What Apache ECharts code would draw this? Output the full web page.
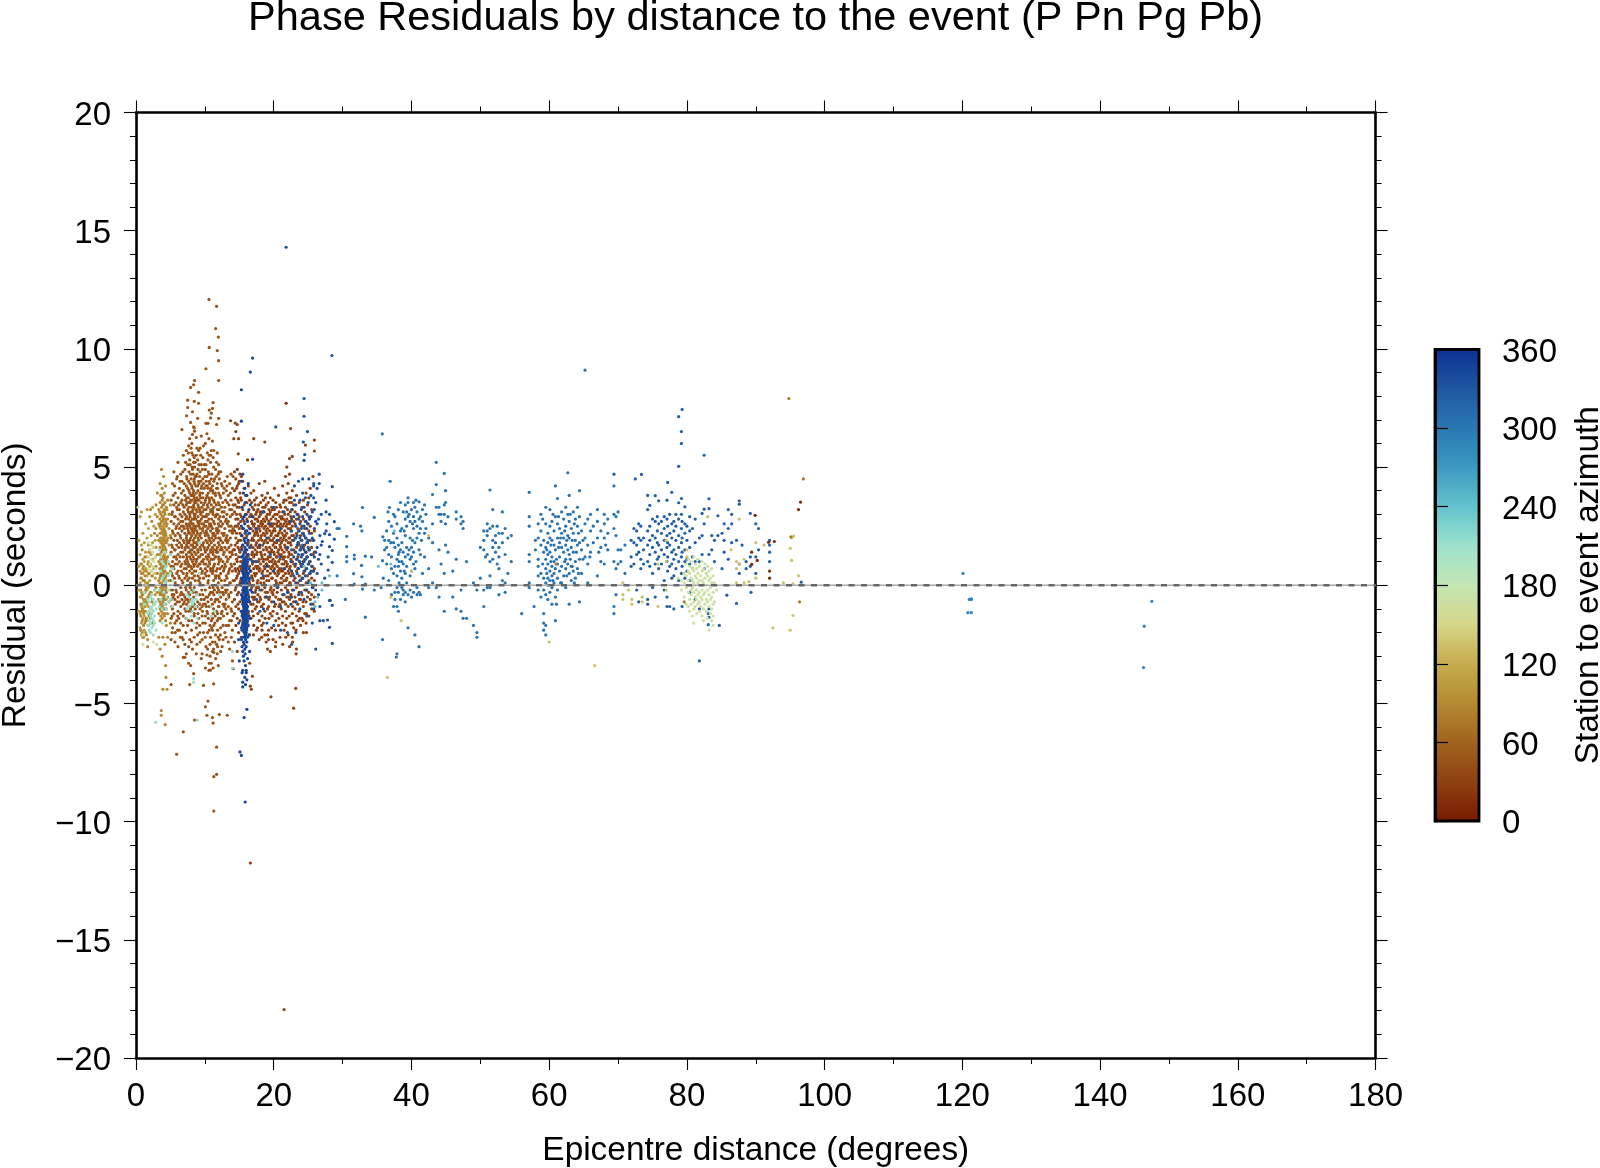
<!DOCTYPE html>
<html><head><meta charset="utf-8">
<style>html,body{margin:0;padding:0;background:#fff}#c{width:1600px;height:1168px}</style>
<script src="https://cdn.jsdelivr.net/npm/echarts@6/dist/echarts.min.js"></script></head>
<body><div id="c"></div>
<script>
// Each row: [distance, residual, residual, ...].
const sandNear=[ // azimuth ~105, closest stations
[0.4,1.9,.8,-.2,-1.1],[0.6,2.9,1.3,.6,.1,-.5,-1.2,-1.8],[0.8,3.1,1.7,.9,.3,-.3,-.9,-1.6,-2.1],[1,2.2,1.1,.5,.2,-.4,-1,-1.4,-2.2],[1.2,1.8,1,.6,0,-.7,-1.3,-1.9],[1.4,2.6,1.4,.7,.1,-.6,-1.1,-2],[1.6,3.2,2,1.2,.4,-.2,-.8,-1.5],[1.8,2.4,1.7,1,.5,-.1,-.9,-1.7],[2,2.9,1.5,.8,.2,-.5,-1.2],[2.2,2.1,1.3,.6,-.3,-1],[2.4,3.3,1.8,1.1,.4,-.6],[2.6,2.5,1.6,.7,0,-.8],[2.8,3,1.9,1.2,.3,-.4]];
const goldNear=[ // azimuth ~85
[0.7,.9,.3,-.2,-.8,-1.3,-1.9],[0.9,1.5,.5,-.4,-1,-1.5,-2],[1.1,.8,.2,-.6,-1.2,-1.7,-2.2],[1.3,1.2,.4,-.3,-.9,-1.6],[1.5,.6,-.1,-.7,-1.4,-2.1],[1.7,.9,.1,-.5,-2.3,-2.6],[1.9,1.4,.5,-.4,-1.3],
[2.9,3.4,2.4,1.6,.8,-.1],[3.1,3.9,2.9,2.1,1.3,.5,-.3],[3.3,3.2,2.6,1.9,1,.2,-.6,-1.2],[3.5,4.3,3.5,2.8,2.2,1.6,.9,.3,-.4,-1,-1.5],[3.6,3.8,3,2.4,1.8,1.1,.5,-.2,-.8,-1.3],[3.7,4.9,3.3,2.7,2,1.4,.7,.1,-.6,-1.1],[3.8,4.1,3.6,2.9,2.3,1.7,1,.4,-.3,-.9,-1.4],[3.9,3.7,3.1,2.5,1.9,1.2,.6,-.1,-.7,-1.2,-2.2],[4,4.6,3.4,2.8,2.1,1.5,.8,.2,-.5,-1],[4.1,3.9,3.2,2.6,2,1.3,.7,0,-.4,-1.3],[4.2,3.5,3,2.3,1.6,1,.3,-.6,-1.2],[4.3,4.2,2.7,2.2,1.4,.9,.1,-.8,-1.5],[4.4,3.3,2.5,1.8,1.1,.4,-.3,-1,-1.7],[4.6,3.6,2.8,2,1.2,.5,-.5,-1.2],[4.8,3,2.4,1.7,.9,.2,-.7],[5,3.4,2.1,1.3,.6,-.2,-1.6],
[3.67,-5.3,-5.5],[4.25,-5.9],[3.9,-4.4],[4.5,-4.4],[4.35,-3.9],[3.5,-2.7],[3.8,-3],[4.2,-2.5],[4.3,-3.4],[3.3,-2.2],[4.6,-2.2],
[3.45,3.1,2.5,1.9,1.3,.7,.1,-.3,-.7],[3.55,2.6,2,1.5,.9,.4,-.1,-.9],[3.75,3.8,2.2,1.8,1.2,.8,.3,-.4],[3.85,3.4,2.7,1.5,.6,-.2,-.6],[3.95,2.9,2.3,1.6,1,.4,-.3],[4.05,2.4,1.7,1.1,.5,-.8],[4.15,3.1,2.2,1.8,.9,.2,-1],[4.25,2.8,1.9,1.2,.6,-.2],[4.35,2.1,1.5,.8,-.1,-.6],[4.5,3.2,2.6,1.9,1,.2],[2.1,3.2,.9,-.3,-1.4],[2.3,2.7,.4,-.7,-1.6],[2.7,2.2,.5,-.2],[1,.7,-.8],[1.4,-.2,-1.5],[1.2,.2,-1.1],[0.8,.5,-.5,-1.1]];
const brownMain=[ // azimuth ~45, distance 5-14
[5.1,3.6,2.7,2,1.4,.8,.2,-.6,-1.4,-2.3,-4.2],[5.3,4.3,3.1,2.3,1.6,1,.4,-.2,-1,-1.8],[5.5,4.8,3.4,2.6,1.9,1.2,.7,-.4,-1.2],[5.7,3.9,2.9,2.1,1.5,.9,.1,-.8,-2],[5.9,4.5,3.3,2.5,1.7,1.1,.5,-.3,-1.5,-7.15],[6.1,5.2,3.7,2.8,2.2,1.3,.6,-.5,-1.1,-2.6],[6.3,4.1,3.2,2.4,1.8,1,.3,-.7,-1.9],[6.5,4.7,3.5,2.7,2,1.4,.8,-.1,-.9,-1.6],[6.67,6.59,4.4,3.6,2.9,2.3,1.6,.9,.2,-.6,-2.2],[6.87,5.5,4,3.1,2.5,1.9,1.2,.5,-.4,-1.3,-3.05,-6.2],[7.1,4.9,3.8,3,2.2,1.5,1,.3,-.5,-1,-2.5,-3.05],[7.3,5.7,4.2,3.4,2.6,2,1.3,.7,-.2,-1.4,-2.9],[7.35,7.17,4.6,3.7,2.9,2.1,1.7,1.1,.4,-.8],[7.5,7.83,7.52,5.1,4.1,3.2,2.4,1.8,1,.2,-.6,-1.7],[7.64,5.9,4.4,3.5,2.8,2.2,1.4,.9,-.3,-1.1,-3.3],[7.8,6.2,5.3,3.9,3,2.5,1.9,1.2,.6,-.4,-2.3,-4.2],[7.93,6.89,8.37,4.7,3.6,2.7,2,1.5,.8,.1,-1,-3.4],[8.1,6,5.6,4.2,3.3,2.6,2.1,1.3,.7,-.2,-1.5],[8.2,7.34,6.38,4.9,3.8,3.1,2.4,1.7,1,.3,-.9,-2.7],[8.37,8.48,6.7,5.2,4,3.4,2.8,2.2,1.6,.9,-.5,-3.74],[8.46,7.78,6.66,5.4,4.5,3.7,3,2.3,1.4,.6,-.1,-1.2],[8.5,8.66,6.52,5,4.3,3.5,2.9,2,1.1,.4,-5.7],[8.75,6.25,5.5,4.6,3.9,3.2,2.5,1.8,1,-.3,-1.8,-2.9],[8.95,7.06,5.3,4.2,3.6,2.7,2.2,1.5,.8,-.7,-2.1],[9.09,8.16,7.7,5.7,4.4,3.3,2.6,1.9,1.2,.2,-1.4],[9.3,5.8,4.8,3.9,3.1,2.4,1.6,.9,.1,-1,-2.4],[9.48,6.31,5.1,4.1,3.5,2.8,2,1.3,.5,-.6,-3.1],[9.7,5.4,4.5,3.7,2.9,2.3,1.7,1,-.4,-1.6],[9.8,5.9,4.3,3.4,2.6,1.8,1.1,.3,-.8,-2,-4.24],[10.07,6,4.9,3.6,2.7,2.1,1.4,.7,-.2,-1.3,-5.14,-3.5],[10.16,9.16,6.85,5.1,4.2,3.2,2.5,1.9,.9,-.5,-2.6],[10.3,6.41,4.6,3.8,3,2.2,1.5,.6,-1.1,-2.95,-5.5],[10.45,6.85,5.3,4.1,3.3,2.4,1.6,.8,.1,-.7,-4.9],[10.64,10.06,7.41,5.5,4.4,3.5,2.6,1.7,1,-.4,-1.9,-3.3],[10.59,12.09,6.2,4.7,3.7,2.8,2,1.2,.4,-.9,-3.6],[10.83,7.08,5.2,4,3.1,2.3,1.4,.7,-.3,-2.2,-3.59],[10.93,7.28,5.7,4.5,3.4,2.5,1.8,1.1,-.6,-1.5,-3.3],[11.1,7.48,6.1,4.2,3.2,2.4,1.6,.5,-.8,-2.4,-5.6],[11.2,7.73,5.4,3.9,3,2.1,1.3,.6,-.1,-1.2,-5.83,-3.5],[11.27,5,3.6,2.7,1.9,1.1,.2,-1,-2.7,-4.17],[11.3,5.7,4.4,3.3,2.2,1.5,.8,-.4,-1.7,-2.84,-9.55,-8.1],[11.56,10.86,4.9,3.8,2.9,2,1.2,.3,-.6,-2.1,-3.1],[11.7,11.8,6.8,5.2,4.1,3,2.3,1.4,.4,-1.1,-2.5,-8,-6.85],[11.8,9.93,5.6,4.3,3.2,2.4,1.6,.7,-.3,-1.5,-2.9],[11.95,10.5,4.7,3.5,2.6,1.8,.9,.1,-.9,-2.2,-3.4],[12,9.5,8.66,7.06,5.1,3.9,2.8,2,1.2,-.2,-1.4],[12.1,4.5,3.4,2.5,1.7,1,.3,-.7,-2.3,-5.47],[12.3,4.8,3.7,2.7,1.9,1.1,.5,-.5,-1.8,-2.8],[12.5,4.2,3.1,2.2,1.5,.8,-.1,-1.1,-2.6],[12.7,3.9,2.9,2.1,1.3,.6,-.4,-1.3],[12.9,4.4,3.3,2.4,1.6,.9,.2,-.8,-2],[13.1,4,2.8,2,1.2,.4,-.6,-1.7],[13.25,4.6,3.5,2.6,1.8,1,-.2,-1.2,-5.5],[13.4,3.8,2.7,1.9,1.1,.5,-.9,-2.4],[13.6,4.3,3.2,2.3,1.4,.7,.1,-1.5,-2.7],[13.8,4.7,3.6,2.5,1.7,.9,-.3,-1],[14,4.1,3,2.2,1.3,.6,-.7,-1.9,-3.2],[14.1,4.6,3.4,2.4,1.5,.2,-1.3,-3.53]];
const brownExtra=[ // second reading of the dense brown block
[5.2,3,1.7,.5,-.9],[5.4,3.8,2.2,.8,-.5],[5.6,4.2,2.9,1.5,.3],[5.8,3.5,2.4,1.2,-.2],[6,4.6,3.2,1.9,.9,-.7],[6.2,3.4,2.6,1.6,.4,-1.4],[6.4,4.4,3,2.1,1.2],[6.6,3.9,2.5,1.7,.6,-.3],[6.8,4.8,3.4,2.7,1.4,.1],[7,4.3,3.3,2.4,1.8,.7,-.7],[7.2,5.2,3.6,2.8,1.6,.9,-.1],[7.4,4.5,3.5,2.5,1.9,1.2,.5],[7.6,5.6,3.7,3.1,2.3,1.6,.8],[7.7,4.8,4,3.3,2.6,1.8,.3,-.9],[7.85,5.1,4.3,3.5,2.9,2.2,1.4,-.1],[8,5.8,4.5,3.8,3.1,2.4,1.7,1.1,-.6],[8.15,5,4.1,3.6,2.8,2.3,1.5,.5],[8.3,5.5,4.7,3.9,3.2,2.6,1.9,1.2,-.3],[8.42,4.4,3.8,3.3,2.5,1.8,.8],[8.6,5.2,4.6,3.6,3,2.4,1.6,.9,.2,-1],[8.7,4.2,3.5,2.8,2.1,1.3,.6],[8.85,5.8,4.7,3.7,3.1,2.3,1.7,1.1,-.4],[9,4.9,4,3.4,2.9,2,1.4,.4,-1.2],[9.15,5.1,4.3,3.6,2.5,1.8,.9],[9.25,4.6,3.8,3.2,2.7,2.1,1.2,.3,-.8],[9.4,5.5,4.4,3.7,3,2.2,1.5,.7],[9.55,4.2,3.3,2.6,1.7,1,-.2],[9.65,4.9,3.9,3.1,2.4,1.3,.6,-1.1],[9.9,5.1,4.1,3.2,2.5,1.6,.9,-.6],[10,4.6,3.5,2.9,2.2,1.5,.5],[10.2,4.4,3.7,2.9,2.3,1.2,.4,-.9],[10.35,5.6,4.2,3.4,2.7,1.8,1.1],[10.5,4.8,3.9,3,2.1,1.3,.2,-1.4],[10.7,4.3,3.6,2.5,1.9,.9,-.1],[10.85,5.5,4.1,3.2,2.6,1.5,.6],[11,4.7,3.7,2.8,2,1.1,-.3,-1.8],[11.15,4,3.1,2.2,1.4,.7],[11.4,4.5,3.5,2.6,1.7,.9,-.2],[11.5,3.9,2.9,2.1,1.2,.4,-1.3],[11.65,4.6,3.4,2.4,1.5,.6],[11.85,4.1,3,2.2,1.4,-.1],[12.05,4.8,3.2,2.3,1.1,.4,-.9],[12.2,3.8,2.9,2,1.5,.7],[12.4,4.3,3.3,2.5,1.6,.2,-1.2],[12.6,3.5,2.6,1.8,1,-.3],[12.8,4.1,3.1,2.2,1.4,.7,-.9],[13,3.6,2.7,1.9,.8,-.2],[13.2,4.2,3,2.1,1.5,.3],[13.5,3.4,2.5,1.6,.6,-.5],[13.7,3.9,2.9,2,1.2,.1],[13.9,3.2,2.3,1.4,.8,-1.1]];
const brownLower=[ // the thinner part of the brown block below zero
[5.25,-.4,-1.3,-2],[5.65,-.6,-1.6,-2.4],[6.05,-1.3,-1.9],[6.45,-.4,-1.2,-2.2],[6.85,-.8,-1.7,-2.3],[7.25,-.6,-1.1,-2],[7.65,-.7,-1.5,-2.6],[8.05,-1.1,-1.9,-2.4],[8.45,-.8,-1.3,-2.2],[8.85,-.9,-1.6,-2.5],[9.25,-.4,-1.7,-2],[9.6,-.9,-1.3,-2.3,-2.9],[10.05,-.8,-1.6,-2.2],[10.4,-.5,-1.2,-2,-2.7],[10.75,-.9,-1.7,-2.5,-3],[11.1,-.3,-1.4,-1.9,-2.8],[11.45,-.7,-1.6,-2.4],[11.85,-.6,-1.2,-1.9,-2.6],[12.25,-.3,-1.4,-2.1],[12.65,-.8,-1.7,-2.3],[13.05,-.3,-1,-2.2],[13.45,-.4,-1.7],[13.85,-1.5,-2.2]];
const rustMain=[ // azimuth ~30, distance 14-26
[13.74,6.96],[14.4,6.86],[14.7,6.8],[14.5,6.5],[14.2,6.2],[14.9,6.2],[17.1,6.2],[18.7,6.06],[22.45,6.63],[25.9,6.14,5.68],[24.6,5.93],[14.85,5.56],[16.2,5.3],[22.3,5.36],[22.7,5.45],[16.74,-4.4],[16.6,-4.27,-11.75],[16.9,-3.85],[19.6,-4.72],[23.2,-4.36],[22.9,-5.2],[21.5,-17.95],
[14.3,4.8,4,3.1,2.3,1.5,.9,.2,-.6,-1.2,-2.4],[14.5,4.5,3.7,2.8,2,1.3,.6,-.1,-.9,-1.7],[14.7,4.9,4.2,3.3,2.5,1.8,1,.4,-.4,-1.4,-2.8],[14.9,4.3,3.5,2.6,1.9,1.2,.5,-.3,-1,-2],[15.1,4.7,3.9,3,2.2,1.4,.8,.1,-.7,-1.5],[15.3,4.6,3.6,2.9,2.1,1.6,.7,0,-1.1,-2.2],[15.5,4.4,3.2,2.4,1.7,1,.3,-.5,-1.3],[15.7,4.1,3.4,2.7,2,1.1,.4,-.2,-1],[15.9,3.8,3,2.3,1.5,.9,.2,-.6,-1.6],[16.1,3.5,2.8,2.1,1.3,.6,-.1,-.9],[16.3,4.2,3.1,2.5,1.8,1.2,.5,-.4,-1.2],[16.5,3.6,2.9,2.2,1.6,.8,.1,-.7,-2.1,-3.3],
[16.7,3.9,3,2.4,1.7,1.1,.6,-.2,-.8,-1.4],[16.9,3.3,2.6,2,1.4,.9,.3,-.5,-1.1],[17.1,4,3.2,2.5,1.9,1.2,.7,0,-.6,-1.7],[17.3,3.4,2.8,2.2,1.5,1,.4,-.3,-1],[17.5,3.7,3.1,2.3,1.8,1.3,.5,-.1,-.9,-1.9],[17.7,3.2,2.7,2.1,1.6,.8,.2,-.4,-1.2],[17.9,4.3,2.9,2.4,1.7,1.1,.6,-.7,-1.5,-2.3],[18.1,3.5,3,2.6,2,1.4,.9,.1,-.6],[18.3,3.8,3.1,2.5,1.9,1.2,.5,-.2,-1.3,-1.9],[18.5,3.6,2.8,2.2,1.5,1,.3,-.8,-1.6],[18.7,4.4,3.3,2.7,2.1,1.3,.7,-.1,-1.1,-2.1],[18.9,3.4,2.9,2.3,1.6,.9,.4,-.5,-2.4],[19.1,3.9,3,2.4,1.8,1.1,.6,-.3,-1,-2.1,-2.7],[19.3,3.2,2.7,2,1.4,.8,.2,-.6,-1.4],[19.5,3.7,3.1,2.5,1.9,1.2,.5,-.2,-1.2,-2.8],[19.7,3.3,2.6,2.2,1.5,1,.3,-.7,-1.8],[19.9,3.6,2.9,2.3,1.7,1.1,.6,-.4,-1.1,-2.3],[20.1,4.1,3.2,2.4,1.8,1.3,.7,0,-.9],[20.3,3.5,2.8,2.1,1.6,.9,.2,-.5,-1.5,-2.4],[20.5,3,2.5,1.9,1.2,.8,.4,-.3,-1.2],[20.7,3.8,2.7,2.2,1.5,1,.5,-.6,-1.7],[20.9,3.4,2.9,2.3,1.7,1.1,.1,-.8,-2.2],[21.1,2.8,2.4,1.8,1.3,.7,.3,-.2,-1],[21.3,4.2,3.1,2.5,1.9,1.2,.6,-.4,-1.3,-2.5],[21.5,3.6,2.6,2,1.4,.9,.2,-.7,-1.9],[21.7,4.6,3.3,2.7,2.1,1.6,1,.5,-.1,-1.1],[21.9,5,3.9,2.8,2.2,1.5,.8,.3,-.5,-1.4],[22.1,4.3,3,2.4,1.8,1.2,.6,-.3,-.9,-2.1],[22.3,4.7,3.5,2.6,2,1.3,.7,.1,-.6,-2.6],[22.5,3.7,2.9,2.3,1.7,1.1,.4,-.4,-1.6],[22.7,4,3.2,2.5,1.9,1,.5,-.2,-1.2,-2.2],[22.9,3.4,2.7,2.1,1.5,.9,.2,-.7,-1.8],[23.1,3.1,2.6,2,1.4,.8,.3,-.5,-1],[23.3,3.8,2.8,2.2,1.6,1.1,.6,-.1,-1.3,-2.7],[23.5,3,2.4,1.8,1.2,.7,.1,-.8,-1.5],[23.7,3.5,2.9,2.3,1.7,1,.4,-.3,-1.1],[23.9,2.7,2.1,1.5,.9,.2,-.6,-1.7],[24.1,3.3,2.5,1.9,1.3,.8,.3,-.4,-1.4],[24.3,3.6,2.8,2.2,1.6,1,.5,-.9,-2],[24.5,3.1,2.4,1.7,1.1,.6,-.2,-1.2],[24.7,3.9,2.7,2,1.4,.7,.1,-.7,-1.6],[24.9,3.4,2.6,1.8,1.2,.4,-.5],[25.1,3.7,2.9,2.3,1.5,.9,.2,-.3,-1.3],[25.3,4.1,2.5,1.9,1,.5,-.6],[25.5,3.2,2.2,1.6,.8,.3,-.4,-1],[25.7,4.6,1.9,1.3,.6,-.1,-.8],[25.9,2.3,1.4,.7,.2,-.5,-1.1]];
const rustExtra=[ // second reading of the dense rust block
[14.4,3.4,2.5,1.7,.7,-.2],[14.6,4.1,3,2.2,1.1,.3],[14.8,3.6,2.8,1.6,.7,-.8],[15,4.4,3.3,2.4,1.5,.6],[15.2,3.7,2.7,1.9,1,.2],[16.8,3.5,2.7,1.9,1.3,.4,-.1],[17,2.9,2.3,1.6,1,.2,-.8],[17.2,3.6,2.6,2.1,1.3,.5,-.5],[17.4,3,2.4,1.7,.8,-.2],[17.6,2.8,2.2,1.4,.7,.1],[17.8,3.4,2.5,1.9,1,-.1],[18,3.1,2.3,1.6,.7,-.5],[18.2,2.7,2.1,1.3,.3,-.9],[18.4,3.3,2.6,1.7,1.1,.6],[18.6,3.1,2.4,1.8,.8,.1],[18.8,3.7,2.5,1.9,1.1,-.3],[19,2.8,2.2,1.5,.9,.2],[19.2,3.5,2.6,2,1.2,.4],[19.4,3,2.3,1.6,1,-.5],[19.6,2.8,2.1,1.4,.7,-.1],[19.8,3.2,2.5,1.9,.8,.3],[20,2.6,2,1.4,.9,-.2],[20.2,3,2.3,1.6,1,.5],[20.4,3.3,2.6,1.8,1.2,.1],[20.6,2.7,2.1,1.4,.6,-.1],[20.8,3.1,2.5,1.9,1.3,.7],[21,3.3,2.6,2,1.6,.6,-.6],[21.2,2.9,2.2,1.5,.9,.1],[21.4,3.5,2.8,2.1,1.1,.4],[21.6,3,2.3,1.7,1.2,.7],[21.8,3.6,2.5,1.9,1,.2],[22,3.2,2.6,1.6,.9,-.2],[22.2,3.7,2.7,2,1.4,.5],[22.4,3.1,2.4,1.8,.8,.1],[22.6,3.5,2.8,2.1,1.3,.6],[17.05,-1.3,-2.1],[17.65,-.7,-1.8],[18.25,-.9,-1.7,-2.2],[18.75,-.5,-1.4],[19.25,-.9,-1.9,-2.3],[19.75,-.3,-1.3],[20.25,-.8,-1.9,-2.6],[20.75,-.9,-1.4],[21.25,-.7,-1.6],[21.75,-.8,-1.7,-2.2],[22.25,-.5,-1.3],[22.75,-.9,-1.6,-2.4],[23.25,-.7,-1.9,-2.9],[23.75,-.6,-1.4],[24.25,-.7,-1.5],[24.75,-.2,-1.2,-2]];
const tealNear=[ // azimuth ~215
[1.2,-.3,-.8],[1.7,-.6,-1.2,-1.7],[1.9,-.7,-1.1,-1.5,-1.9],[2.1,-.5,-1,-1.3,-1.6,-2],[2.3,-.4,-.9,-1.2,-1.4,-1.8],[2.5,-.6,-1.1,-1.5,-1.7,-2.1],[2.7,-.2,-.8,-1.3,-1.6],[2.9,-.7,-1,-1.9],[2.85,-5.8],[3.4,1.5,-.2,-.9],[3.6,1.2,.6,-.6],[3.8,1,.3,-1,-1.6],[4,.9,.4,-.3],[4.2,1.4,.7,.1,-.8],[4.4,.8,.2,-.5,-1],[4.7,1,.4,-.2,-.7],[5,1.3,.5,0,-.6],[5.3,.7,.2,-.9],[7.4,-.4,-1,-1.4],[7.7,-.5,-.9],[8,-.3,-.7,-1.3],[8.2,-.6,-.8,-1.1],[8.4,-.2,-.7,-1.6],[8.7,-.6,-.9],[8.9,-.4,-1.4,-5.7],[9.2,1.8,.5],[8.37,-3.95,-4.1],[10.9,-.9,-1.3],[11.4,-1.1],[12.1,-.4],[14,-2.8,-3.5]];
const paleNear=[ // azimuth ~165
[1.8,1.8,1.2,.7],[2,1.5,.9],[2.2,1.7,1.1,.6],[2.4,1.4,.8],[2.6,1.6,1,.5],[2.8,1.2,.7],[1,-2.1,-2.5],[2.5,-2.4],[3,-2.5],[0.3,3.3]];
const blueBand=[ // azimuth ~345, distance 15-17
[15.3,4.4,2.5,1.2,.3,-.4,-1.1,-1.8,-2.3,8.27,6.94],[15.4,3.3,2.1,1.5,.6,.1,-.6,-1.3,-1.9,-2.6],[15.5,4.7,2.8,1.7,.9,.2,-.2,-.8,-1.1,-1.6,-2.2,-2.8,-3.6],[15.6,3.9,2.4,1.3,.7,.3,-.1,-.5,-.9,-1.2,-1.5,-1.9,-2.4,-3],[15.7,2.9,1.9,1.1,.5,.1,-.3,-.7,-1,-1.4,-1.7,-2,-2.5,-3.2,-5.6],[15.8,4.1,2.6,1.6,.8,.4,0,-.4,-.6,-1.1,-1.3,-1.6,-1.8,-2.2,-2.7,-3.9],[15.85,3.5,2.2,1.4,.9,.5,-.2,-.8,-1.2,-1.5,-2.1,-2.9,-9.17],[15.9,1.8,1,.6,.2,-.2,-.6,-.9,-1.4,-1.7,-1.9,-2.3,-3.4,-4.2],[16,3,2,1.2,.7,.3,-.1,-.5,-.8,-1.2,-1.6,-2,-2.6,-3.7],[16.1,3.8,2.3,1.5,.8,.1,-.4,-.7,-1,-1.3,-1.8,-2.4,-4,-5.25],[16.2,2.7,1.7,1,.4,-.3,-.9,-1.5,-2.2,-3.1],[16.3,4.3,1.9,1.3,.5,0,-.6,-1.1,-1.7],[16.4,3.2,2.2,.7,.2,-.5,-1.3,-2.1],[16.5,2.4,1.1,.3,-.7,-1.4,-2.8],[16.6,3.4,1.6,.6,-.2,9.02],[16.93,9.61,5.33],[16.9,2.9,1,-.3],[15.3,-7.2],[15.1,-7.05],[15.5,-4.1,-4.3],[15.4,-3.7],[16,-3.6],[15,-3.2],[14.9,-2.3,-1.6],
[15.65,1,.4,-.2,-.6,-1.1,-1.6],[15.75,1.4,.6,-.1,-.5,-.9,-1.3,-1.8],[15.95,.8,.2,-.3,-.7,-1.1,-1.5,-2.1],[16.05,1.1,.5,0,-.6,-1,-1.4,-1.9],[16.15,.9,.3,-.2,-.9,-1.6],[15.45,.8,.1,-.5,-1.2,-1.7],[15.55,1.2,.5,-.3,-.7,-1.4]];
const blueMid=[ // azimuth ~335, distance 17-38
[28.45,9.72],[24.4,7.9,7.15,5.28],[24.9,6.5],[20.3,6.7],[24.3,6.06],[24.5,5.53],[21.8,14.3],
[23,4.2,3.6],[23.6,4.4],[24.2,4.5,3.9],[25.1,4.5],[25.8,4.3,4.2,3.7],[26.3,4.1],[26.6,4.7,4.3],[27.6,3.6,3.1,2.3],[28.5,4.17,1.47,.97,-.85,-2.46],[28.1,3,2.14,1.63,-.64,-1.78],[28.8,2.69,1.95],[27.7,2.6],[27.4,2.18,.3],[27.05,1.85],[27.9,.64,1.2],[28.2,-.64],[27.8,-1.47],[27.2,-1.5],
[17.5,2.4,1,-.6],[18,1.7,-.2,-1.1],[18.5,3.1,.4,-1],[19,2,.8,-.5,-1.6],[19.5,2.6,1.3],[20,3.3,.6,-.7,-1.7],[20.5,1.9,-.1],[21,2.4,1.2,-.9,-1.9],[21.5,3.1,.7,-.4],[22,1.6,-.3,-2],[22.5,2.7,1,-.8],[22.6,3.2,2.3,1.5,.6,-.5,-2.5],[22.9,2.9,1.9,1.2,.4,-.2],[23.2,3.4,2.5,2,1.4,.9,.1,-.7,-2],[23.4,3,2.1,1.7,1.1,.5],[23.6,2.8,2.3,1.8,1.3,.7,-.4],[23.8,3.6,2.6,2,1.5,1,.2,-1],[24,3.2,2.4,1.9,1.6,1.2,.8,-.3],[24.2,2.9,2.2,1.7,1.3,.9,.3],[24.4,3.3,2.5,2.1,1.5,1,.6,-.6],[24.6,3.7,2.7,2,1.4,1.1,.4],[24.8,3,2.4,1.8,1.2,.7,-.2,-1.3],[25,3.5,2.6,1.9,1.6,.9,.1],[25.2,2.8,2.2,1.5,1,.5],[25.4,3.8,2.9,1.3,.6,-.8],[25.6,3.1,2,.8,-.1,-1.6],[25.8,1.9,.6,-1],[25.9,3.2,2.4,1.2],[26.1,3.5,2.7,1.4,-.2,-2.7],[26.3,2.6,1.6,.5],[26.5,2.8,1.1,-.4],[26.7,2.1,1.3,-.9,-1.5],[26.9,3,1.7,.9]];
const blueFar=[ // azimuth ~310, distance 29-70
[35.76,6.4],[36.9,4.4],[32.9,3.29,-.16],[36.8,3.29],[34.6,2.87,-.2],[36.6,3.1],[31.6,2.6,.49],[32.6,2.5],[29.5,2.4],[29.2,2.4,.4],[32.8,2.3,.36],[30.6,2.07,1.63,1.21,1],[35.85,2.05],[37,1.8],[31.7,1.28,1.12,.05],[34.2,1.2],[33.3,1.23,.05,-1.35],[35.8,1.04,-2.3],[32.75,.84],[35.9,.3],[35.6,-.1],[30.4,-.6],[37.8,-3.04],
[38.2,1.4,1,.1],[36.1,1.9,1.5],[36.4,2.3,1.6,.9],[36.7,2.7,1.9,1.3,.2],[37.1,2.5,1.2,.7,-.4],[37.4,3,2.2,1.8,.5,-.9],[37.6,2.9,1.6,.8,-.3,-.6],[37.9,2.6,2,1.1,.4,-.1,-2.9,-.9],[38.1,3.2,1.7,1.3,.8,-.3,-1.1],[38.4,3.5,2.3,1.5,.6,-.6],[38.6,2.4,1.8,1,.3,-.1],[38.8,3.1,1.4,.9,-.4,-.2],[39.1,3.4,2.8,2.1,1.2,.5,-.3,-.7],[39.3,3.1,2.5,1.6,.8,.1],[39.5,3.7,3.5,2.9,1.3,-.4,-1.8],[39.8,2.7,2,1.1,.4,-.2],[40,3.2,1.6,1.2,.6,-.5],[40.3,3.5,2.9,2.4,1.4,.9,-.3],[40.5,3.3,2.7,1.8,.7,-2.1],[40.8,3.1,2.5,2,-.1,-.4],[41.1,3.53,2.8,2.2,1.5,-.3,-2.6],[41.3,2.9,2.4,1.3,-.4],[41.6,3.2,2.7,.5],[41.9,3.4,2.2,1.2],[42.5,2,.7,-.1],[43.06,3.84,2.6,1.8,.1],[43.6,5.2,4.26,3.3,-.1],[44,3.3,3,1.5,-.5],[44.3,3,2.7,.9],[44.76,4.73,3.4,3,.5,-1.1],[44.95,4,3.5,2.6,1.7],[46,.6,-.5],[46.5,3.1,2.8,1.1,-1],[47.2,2.9,2.6,-1.1,-.2],[47.5,2.7,2.4,-1.4],[48,1,-1.4],[49,.1,-1.7],[49.5,-.2,-2.2,-2],[50,1.6,.3],[50.5,2.3,1.9,1.5,-.2,-.9],[51,2.6,2.3,2.1,1.3,-.1],[51.4,4.03,2.4,1,-.1,.4],[51.8,3.2,2.5,1.9,1.6,1.1],[52.2,2.1,1.8,1.4],[52.7,2.2,1.6,1.2,.7,-.4],[53.2,3.1,2.2,1.8,.2],[53.6,2.4,1.3,.1,-.3],[54,2,.5],[54.5,2.1,1],[56,-1.2],[57.1,3.93,2.9,2.5,1.3,1,.1,-.1],[57.8,-.9],[58,1.9,1.5],[58.4,2.6,2,1.1,.8,.4,-.2],[58.8,3,2.3,1.7,.5,-.5],[59.2,1.9,1.4,.3,-.2,-1.2,-1.9,-1.6],[59.5,3.3,2.6,1.6,1.1,.7,.1,-.4,-1.7,-2.1],[59.8,2.2,1.8,1.3,.9,.3,0,-.6],[60.1,3.2,2.5,2,1.4,.6,.2,-.3],[60.4,2.7,1.9,1.2,.8,.4,-.1,-.8],[60.7,2.3,1.7,1,.5,.1],[60.9,4.2,2.9,1.5,.7,-.5,-1.5],[61.2,3.67,2.6,2,.9,.3,-.2],[61.5,2.4,1.8,1.2,.6],[61.8,3.1,2.2,1.6,.8,.1],[62.1,2.8,2,1.4,.4],[62.4,3.3,2.5,1.7,1.1,.7,-.1],[62.7,4.76,3,2.1,1.5,.9],[62.9,3.8,2.7,2,1.3,.5,-.8],[63.2,2.4,1.6,.8,.2],[63.5,3.1,2.2,1.4,.6],[63.8,2.8,1.9,1,.3],[64.1,3.3,2.5,1.7,.7],[64.4,4,2.9,1.8,1.1,-.7],[64.7,2.3,1.5,.5],[65.2,9.1,2.6,2,1.2],[65.6,2.8,1.7,.9,.1],[66,3,2.3,1.4],[66.4,2.5,1.8],[67,3.2,2.7,2,.4],[67.5,2.3,1.6,1],[68,3,2.6,2,.9],[68.5,2.8,2.2,1.5],[69.4,4.2,3,2.4,1,-.9,-1.2],[69.7,2.9,2.1,.7,-.4],[70,3.1,1.5,.9],[70.4,1.5,1],[71,1.7,.5],
[38.95,2.3,.6],[39.65,3,1.5],[40.15,2.6,1.9],[40.65,3.6,1],[41.45,1.9],[42.1,3,2.4],[45.3,2.9,1.4],[50.75,1.2],[52.45,2.5,.9],[59.05,2.8,.9],[59.65,1.5,.5],[60.25,1.7,1],[60.55,3,.2],[61.05,1.1,-.8],[61.35,2.9,1.6],[61.65,2,.1],[62.25,2.3,1],[62.55,1.9,.4],[63.05,3,1.1],[63.35,1.9,.8],[63.65,2.6,.1],[63.95,1.4],[64.25,2.2,.5],[64.9,1.9,1.1],[65.9,1.2],[67.2,1.4],[68.2,1.7]];
const blueNear80=[ // azimuth ~320, distance 72-97
[69.4,4.7],[72.5,4.5],[73.4,4.69],[71.9,1.9,1.2,.8],[72.3,2.4,1.8,.9],[72.7,2.3,1.7,1.3,-.2],[73,2.6,2,1.4,-.7],[73.3,2.5,1.9,1.1,.7],[73.7,2,1.5,.9],[74.3,3.8,3.2,2.3,1.7,1,-.6,-.8],[74.6,3.38,2.5,1.9,1.3,.8],[75,2.8,2.1,1.6,.5,-.1],[75.4,3.79,2.7,2,1.4,.9,-.5],[75.7,2.9,2.3,1.8,1.1],[75.9,3.57,2.6,1.7,1.2,.7],[76.3,2.7,2.2,1.5,.9],[76.7,2.9,2.4,1.9,1.3,.2,-.2],[77.1,3.6,2.8,2.1,1.6,1,-.5,-.9],[77.2,4.35,2.5,1.8,1.2,.6],[77.5,3,2.2,1.7,.8,-.9],[77.8,3.93,2.6,2,1.4,.9,.3],[78.1,2.7,2.3,1.5,1.1,.4,-1],[78.4,3,2.5,1.9,1.3,.7],[78.8,7.13,5.03,3.49,2.8,2.1,1.6,1,.2],[79.2,6.5,6,3.67,3,2.4,1.8,1.2,.5],[79.3,7.44,2.7,2,1.4,.8,-.9],[79.7,3.32,2.6,2.2,1.5,1,.3],[80,2.5,1.9,1.1,.6],[80.4,2.9,2.3,1.6,.9,.2,-.3],[80.8,2.4,1.2,.7],[81.2,2.8,1.8,1,-.6],[81.8,2,1,-1,-3.2],[82.2,3.04,2.1,1.3],[82.5,5.5,3.22,2.6,.7],[83.2,3.66,3.24,1.3,-1.36,-1],[83.1,-1.67,-1.2],[83.6,2.1,1.5],[84,1.9,1],[84.5,2.94,2.1],[84.7,-1.7],[85.1,2.2,.7],[85.4,2.6,1.9,1.4],[85.8,-.42],[86,3.2,2.4,1.1],[86.5,3,2.6,1.8],[87.2,-.77,1.9],[87.6,3.57,3.43,.9,.5],[88,1.7],[88.6,1,.7],[89.2,3.04,1.2,.8],[89.3,-.3],[90,1.2,.5,2.6],[90.4,2.4,1.5],[92,1.9,1.7,1.4,1],[96.6,.13]];
const paleFar=[ // azimuth ~165, distance 79-85
[78.7,.3],[79.2,.2,-.2],[79.6,.5,.1,-.5],[79.9,.9,.4,-.1,-.8],[80.2,1.1,.6,.2,-.3,-.9],[80.4,.8,.5,0,-.6,-1.1],[80.6,1,.3,-.2,-.4,-.8],[80.8,.7,.2,-.1,-1.3],[81,1.2,.6,.1,-.3,-.7,-1.6,-1],[81.2,.9,.4,0,-.5,-.9],[81.4,.7,.3,-.2,-.6,-1.2],[81.6,1.1,.5,.1,-.4,-.8],[81.8,.8,.2,-.3,-.7,-1.1],[82,.4,0,-.5,-.9],[82.2,1,.6,.2,-.2,-.6,-1.3],[82.4,.7,.1,-.4,-1,-1.5],[82.6,.9,.3,-.3,-.8],[82.8,.5,0,-.6,-1.1],[83,.8,.4,-.2,-.7,-1.4],[83.2,.6,.2,-.4,-.9,-1.9],[83.4,.3,-.1,-.6,-1.2],[83.6,.7,.1,-.5,-1,-1.5],[83.8,.4,-.3,-.8,-1.3,-1.7],[84,.1,-.7],[84.3,-.2]];
const sandFar=[ // azimuth ~130, scattered
[70.7,.1,-.4,-.6],[71.5,-.2],[72,-.6,-.8],[73.5,-.5,-.7],[75.8,.9,-.9],[77,1.9,1,-.2],[38.5,-1.5],[36.5,-3.9],[37,-.5],[60,-2.4],[66.6,-3.4],[40,.6],[42.5,2.1],[86.4,1.5],[87.2,.7,.1,1],[87.6,2.8,.9],[88.3,1.1,.1],[89,.15],[90,.3,1.8],[91.2,1.7],[94,.1],[95,1.56,-1.9],[95.2,1.05,2],[95.4,-1.28,.06],[95.5,2.08],[96.2,.4],[92.5,-1.8],[80,1.2,1.5],[83,2.9]];
const orangeFar=[[94.8,7.9],[96.9,4.5],[79.6,-.7],[96.35,-.7],[95.1,2.05],[61,.9]];
const redFar=[[21.8,7.7],[89.9,2.96],[96.5,3.52],[96.2,3.2],[91.85,1.82],[92.7,1.85],[89.4,1.4,.88],[90.2,1.05],[92,.6,.3]];
const cyanMid=[[37,.9],[28.1,.4],[27,.1,-.2],[26.4,-.5],[26,-.9,-.7],[25.4,.1],[24.4,.8],[35.2,.8],[37.5,2.3]];
const blueFarOutliers=[[120.1,.5],[121,-.6],[121.3,-.6,-.58],[120.8,-1.16],[121.3,-1.16],[147.5,-.68],[146.4,-1.73],[146.3,-3.48]];
const residualDataGroups=[[sandNear,105],[goldNear,88],[brownMain,45],[brownExtra,45],[brownLower,45],[rustMain,30],[rustExtra,30],[tealNear,212],[paleNear,165],[blueBand,345],[blueMid,335],[blueFar,305],[blueNear80,322],[paleFar,168],[sandFar,135],[orangeFar,75],[redFar,10],[cyanMid,240],[blueFarOutliers,290]];

const zeroX=[0,180], zeroY=[0,0];
const azimuthColors=['#781a00','#8f4110','#a0641f','#b58a30','#c6ac4c','#d6d68a','#c3e6b4','#9de2cc','#62c3cd','#3a9ac0','#2a78b4','#1e57a1','#0b3291'];
const xTicksEvery=20, yTicksEvery=5, azTicksEvery=60;

const points=[];
residualDataGroups.forEach(([rows,az])=>rows.forEach(r=>r.slice(1).forEach(y=>points.push([r[0],y,az]))));

const FONT='"Liberation Sans", Arial, sans-serif';
const black='#000';
const label={color:black,fontFamily:FONT,fontSize:33};
const nameStyle={color:black,fontFamily:FONT,fontSize:33.4};
const minus=v=>'{a|'+String(v).replace('-','\u2212')+'}';
const shiftedLabel={color:black,fontFamily:FONT,fontSize:33,padding:[6,0,0,0]};
const line={show:true,onZero:false,lineStyle:{color:black,width:2.6}};
const tick={show:true,inside:false,length:12,lineStyle:{color:black,width:1.1}};
const minorX={show:true,splitNumber:2,length:6,lineStyle:{color:black,width:1}};
const minorY={show:true,splitNumber:5,length:6,lineStyle:{color:black,width:1}};

const chart=echarts.init(document.getElementById('c'),null,{renderer:'canvas'});
chart.setOption({
  animation:false,backgroundColor:'#fff',
  title:{text:'Phase Residuals by distance to the event (P Pn Pg Pb)',left:755.6,top:-2,textAlign:'center',padding:0,
    textStyle:{color:black,fontFamily:FONT,fontSize:41.5,fontWeight:'normal'}},
  grid:[{left:136,top:112.5,width:1239.6,height:945.5,show:false,outerBoundsMode:'none'},
        {left:1435,top:349.5,width:44,height:471.5,show:true,z:10,backgroundColor:'transparent',borderColor:black,borderWidth:2.8,outerBoundsMode:'none'}],
  xAxis:[
    {gridIndex:0,type:'value',position:'bottom',min:0,max:180,interval:xTicksEvery,axisLine:line,axisTick:tick,minorTick:minorX,splitLine:{show:false},
     axisLabel:{...label,margin:22},name:'Epicentre distance (degrees)',nameLocation:'middle',nameGap:76,nameTextStyle:nameStyle},
    {gridIndex:0,type:'value',position:'top',min:0,max:180,interval:xTicksEvery,axisLine:line,axisTick:tick,minorTick:minorX,splitLine:{show:false},axisLabel:{show:false}},
    {gridIndex:1,type:'value',min:0,max:1,show:false}
  ],
  yAxis:[
    {gridIndex:0,type:'value',position:'left',min:-20,max:20,interval:yTicksEvery,axisLine:line,axisTick:tick,minorTick:minorY,splitLine:{show:false},
     axisLabel:{...label,margin:25,formatter:minus,rich:{a:shiftedLabel}},name:'Residual (seconds)',nameLocation:'middle',nameGap:104,nameRotate:90,nameTextStyle:nameStyle},
    {gridIndex:0,type:'value',position:'right',min:-20,max:20,interval:yTicksEvery,axisLine:line,axisTick:tick,minorTick:minorY,splitLine:{show:false},axisLabel:{show:false}},
    {gridIndex:1,type:'value',position:'right',min:0,max:360,interval:azTicksEvery,z:11,axisLine:{show:true,lineStyle:{color:black,width:2.8}},axisTick:{show:true,length:13,lineStyle:{color:black,width:1.2}},splitLine:{show:false},
     axisLabel:{...label,margin:23,formatter:minus,rich:{a:shiftedLabel}},name:'Station to event azimuth',nameLocation:'middle',nameGap:93,nameRotate:90,nameTextStyle:nameStyle}
  ],
  visualMap:{type:'continuous',seriesIndex:0,dimension:2,min:0,max:360,show:true,calculable:false,hoverLink:false,realtime:false,z:1,
    left:1435,top:349.5,itemWidth:44,itemHeight:471.5,padding:0,text:null,showLabel:false,inRange:{color:azimuthColors},outOfRange:{color:azimuthColors}},
  series:[
    {type:'scatter',xAxisIndex:0,yAxisIndex:0,data:points,symbol:'circle',symbolSize:3.2,silent:true,large:false,itemStyle:{opacity:1},clip:true},
    {type:'line',xAxisIndex:0,yAxisIndex:0,data:zeroX.map((x,i)=>[x,zeroY[i]]),symbol:'none',silent:true,lineStyle:{color:'#aaa',width:1.4},z:5},
    {type:'line',xAxisIndex:0,yAxisIndex:0,data:zeroX.map((x,i)=>[x,zeroY[i]]),symbol:'none',silent:true,lineStyle:{color:'#666',width:2.6,type:[6,6.5]},z:6}
  ]
});
</script></body></html>
